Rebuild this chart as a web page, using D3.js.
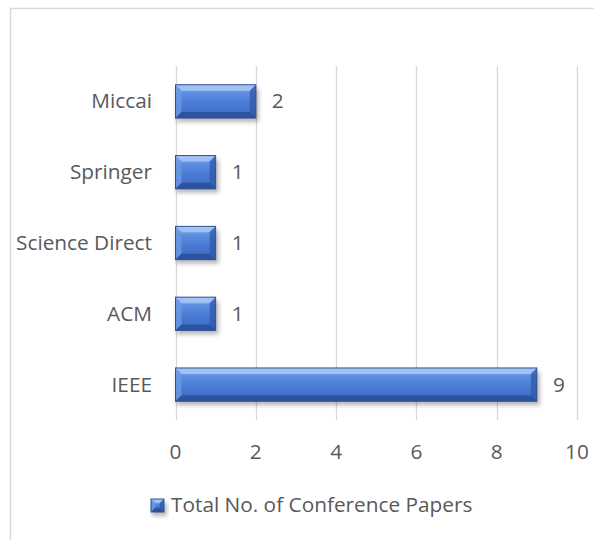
<!DOCTYPE html>
<html><head><meta charset="utf-8">
<script src="https://cdn.jsdelivr.net/npm/d3@7"></script>
<style>body{margin:0;background:#fff}svg{display:block}text{font-family:"Open Sans","Noto Sans",sans-serif;fill:#595959}</style>
</head><body>
<script>
const categories = ["Miccai","Springer","Science Direct","ACM","IEEE"];
const values = [2,1,1,1,9];
const xTicks = [0,2,4,6,8,10];
const seriesName = "Total No. of Conference Papers";

const W=594,H=540,FS=20.8;
const svg=d3.select("body").append("svg").attr("width",W).attr("height",H);
const defs=svg.append("defs");
const g1=defs.append("linearGradient").attr("id","barGrad").attr("x1",0).attr("y1",0).attr("x2",0).attr("y2",1);
g1.append("stop").attr("offset","0%").attr("stop-color","#92b6f0");
g1.append("stop").attr("offset","25%").attr("stop-color","#5e8ee2");
g1.append("stop").attr("offset","60%").attr("stop-color","#4879d3");
g1.append("stop").attr("offset","100%").attr("stop-color","#3b6ac3");
const blur=defs.append("filter").attr("id","shadow").attr("x","-10%").attr("y","-50%").attr("width","120%").attr("height","200%");
blur.append("feGaussianBlur").attr("stdDeviation",2);

// chart border
svg.append("rect").attr("x",10.5).attr("y",8.5).attr("width",W).attr("height",H).attr("fill","none").attr("stroke","#d9d9d9").attr("stroke-width",1.5);

const x=d3.scaleLinear().domain([0,10]).range([175.5,577]);
const y=d3.scaleBand().domain(categories).range([66,420]).paddingInner(0.53).paddingOuter(0.265);

// gridlines
svg.append("g").selectAll("line").data(xTicks).join("line")
 .attr("x1",d=>Math.round(x(d))+0.5).attr("x2",d=>Math.round(x(d))+0.5)
 .attr("y1",66).attr("y2",420).attr("stroke","#d9d9d9").attr("stroke-width",1.3);

// x tick labels
svg.append("g").selectAll("text").data(xTicks).join("text")
 .attr("x",d=>x(d)).attr("y",459).attr("text-anchor","middle").attr("font-size",FS).text(d=>d);

// category labels
svg.append("g").selectAll("text").data(categories).join("text")
 .attr("x",152).attr("y",d=>y(d)+y.bandwidth()/2+7).attr("text-anchor","end").attr("font-size",FS).text(d=>d);

function drawBar(gr,x0,y0,w,h){
  const b=Math.min(6,w/2,h/3);
  gr.append("rect").attr("x",x0+1).attr("y",y0+4).attr("width",w+2).attr("height",h).attr("fill","#000").attr("opacity",0.28).attr("filter","url(#shadow)");
  gr.append("rect").attr("x",x0).attr("y",y0).attr("width",w).attr("height",h).attr("fill","url(#barGrad)");
  gr.append("polygon").attr("points",[[x0,y0],[x0+w,y0],[x0+w-b,y0+b],[x0+b,y0+b]].join(" ")).attr("fill","#a9c6f5").attr("opacity",0.85);
  gr.append("polygon").attr("points",[[x0,y0],[x0+b,y0+b],[x0+b,y0+h-b],[x0,y0+h]].join(" ")).attr("fill","#6d98e3").attr("opacity",0.8);
  gr.append("polygon").attr("points",[[x0+w,y0],[x0+w,y0+h],[x0+w-b,y0+h-b],[x0+w-b,y0+b]].join(" ")).attr("fill","#2f58a8").attr("opacity",0.75);
  gr.append("polygon").attr("points",[[x0,y0+h],[x0+b,y0+h-b],[x0+w-b,y0+h-b],[x0+w,y0+h]].join(" ")).attr("fill","#2a4f98").attr("opacity",0.85);
  gr.append("rect").attr("x",x0).attr("y",y0).attr("width",w).attr("height",h).attr("fill","none").attr("stroke","#2e5296").attr("stroke-width",1);
}
const bars=svg.append("g");
categories.forEach((c,i)=>{
  drawBar(bars,x(0),y(c),x(values[i])-x(0),y.bandwidth());
});
// value labels
svg.append("g").selectAll("text").data(categories).join("text")
 .attr("x",(d,i)=>x(values[i])+22).attr("y",d=>y(d)+y.bandwidth()/2+7).attr("text-anchor","middle").attr("font-size",FS).text((d,i)=>values[i]);

// legend
const lg=svg.append("g");
drawBar(lg,151,499,13,13);
lg.append("text").attr("x",171).attr("y",512).attr("font-size",FS).text(seriesName);
</script>
</body></html>
